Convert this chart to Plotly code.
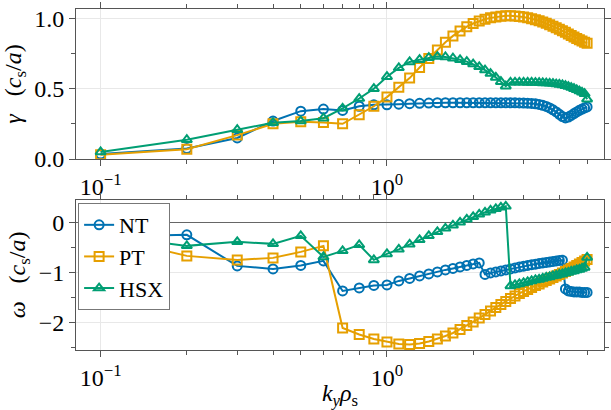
import plotly.graph_objects as go
from plotly.subplots import make_subplots

ky = [0.1, 0.2, 0.3, 0.4, 0.5, 0.6, 0.7, 0.8, 0.9, 1.0,
      1.1, 1.2, 1.3, 1.4, 1.5, 1.6, 1.7, 1.8, 1.9, 2.0,
      2.1, 2.2, 2.3, 2.4, 2.5, 2.6, 2.7, 2.8, 2.9, 3.0,
      3.1, 3.2, 3.3, 3.4, 3.5, 3.6, 3.7, 3.8, 3.9, 4.0,
      4.1, 4.2, 4.3, 4.4, 4.5, 4.6, 4.7, 4.8, 4.9, 5.0]

gamma_NT = [0.035, 0.075, 0.15, 0.27, 0.34, 0.355, 0.345, 0.375, 0.385, 0.385,
            0.39, 0.393, 0.396, 0.398, 0.40, 0.40, 0.40, 0.40, 0.40, 0.40,
            0.40, 0.40, 0.40, 0.40, 0.40, 0.40, 0.40, 0.40, 0.399, 0.398,
            0.397, 0.395, 0.392, 0.388, 0.382, 0.374, 0.363, 0.350, 0.335, 0.318,
            0.302, 0.292, 0.298, 0.31, 0.323, 0.335, 0.346, 0.355, 0.363, 0.37]

gamma_PT = [0.03, 0.07, 0.17, 0.25, 0.265, 0.26, 0.25, 0.315, 0.375, 0.44,
            0.51, 0.575, 0.65, 0.715, 0.775, 0.83, 0.875, 0.91, 0.94, 0.963,
            0.98, 0.993, 1.003, 1.01, 1.015, 1.018, 1.018, 1.016, 1.013, 1.009,
            1.003, 0.997, 0.99, 0.982, 0.973, 0.964, 0.954, 0.944, 0.933, 0.922,
            0.911, 0.90, 0.889, 0.878, 0.867, 0.857, 0.847, 0.838, 0.83, 0.822]

gamma_HSX = [0.05, 0.137, 0.208, 0.258, 0.27, 0.29, 0.36, 0.43, 0.50, 0.585,
             0.648, 0.69, 0.706, 0.72, 0.728, 0.725, 0.716, 0.705, 0.692, 0.675,
             0.655, 0.632, 0.607, 0.58, 0.55, 0.518, 0.545, 0.545, 0.545, 0.545,
             0.544, 0.544, 0.543, 0.542, 0.541, 0.54, 0.538, 0.536, 0.533, 0.53,
             0.526, 0.521, 0.515, 0.508, 0.50, 0.492, 0.483, 0.474, 0.464, 0.425]

omega_NT = [-0.29, -0.25, -0.87, -0.93, -0.86, -0.77, -1.37, -1.31, -1.26, -1.25,
            -1.17, -1.12, -1.07, -1.03, -0.99, -0.95, -0.92, -0.89, -0.86, -0.83,
            -0.81, -1.04, -1.01, -0.99, -0.97, -0.95, -0.93, -0.91, -0.89, -0.875,
            -0.86, -0.845, -0.835, -0.82, -0.81, -0.80, -0.79, -0.78, -0.77, -0.76,
            -0.755, -1.33, -1.37, -1.38, -1.39, -1.39, -1.39, -1.40, -1.40, -1.40]

omega_PT = [-0.26, -0.67, -0.75, -0.71, -0.59, -0.47, -2.11, -2.24, -2.33, -2.39,
            -2.43, -2.44, -2.42, -2.38, -2.33, -2.27, -2.21, -2.14, -2.06, -1.99,
            -1.91, -1.84, -1.77, -1.70, -1.64, -1.58, -1.52, -1.47, -1.42, -1.38,
            -1.34, -1.30, -1.26, -1.23, -1.19, -1.16, -1.13, -1.10, -1.07, -1.04,
            -1.01, -0.98, -0.95, -0.92, -0.89, -0.86, -0.83, -0.80, -0.77, -0.74]

omega_HSX = [-0.25, -0.47, -0.39, -0.43, -0.27, -0.69, -0.57, -0.45, -0.75, -0.63,
             -0.54, -0.44, -0.35, -0.27, -0.19, -0.12, -0.06, 0.00, 0.06, 0.11,
             0.16, 0.20, 0.24, 0.27, 0.30, 0.32, -1.27, -1.25, -1.23, -1.21,
             -1.19, -1.17, -1.15, -1.14, -1.12, -1.10, -1.09, -1.07, -1.06, -1.04,
             -1.03, -1.01, -1.00, -0.98, -0.97, -0.95, -0.94, -0.92, -0.90, -0.70]

series = [
    ("NT", gamma_NT, omega_NT, "#0072B2", "circle-open"),
    ("PT", gamma_PT, omega_PT, "#E69F00", "square-open"),
    ("HSX", gamma_HSX, omega_HSX, "#009E73", "triangle-up-open"),
]

x_major = [0.1, 1.0]
x_major_text = ["10<sup>\u22121</sup>", "10<sup>0</sup>"]
x_minor = [0.2, 0.3, 0.4, 0.5, 0.6, 0.7, 0.8, 0.9, 2, 3, 4, 5]

FONT = "Liberation Serif, Times New Roman, Noto Serif, serif"

fig = make_subplots(rows=2, cols=1, vertical_spacing=0.12)

for name, g, w, col, sym in series:
    for row, vals, show in ((1, g, False), (2, w, True)):
        fig.add_trace(go.Scatter(
            x=ky, y=vals, mode="lines+markers", name=name, showlegend=show,
            line=dict(color=col, width=2),
            marker=dict(symbol=sym, size=9, color=col, line=dict(color=col, width=2)),
        ), row=row, col=1)

axis_common = dict(
    showline=True, linecolor="#555555", linewidth=1, mirror="ticks",
    ticks="outside", ticklen=6, tickwidth=1, tickcolor="#555555",
    showgrid=True, gridcolor="#e8e8e8", gridwidth=1,
    tickfont=dict(family=FONT, size=24, color="black"),
)

xr = [-1.086, 0.758]
for r in (1, 2):
    fig.update_xaxes(type="log", range=xr, tickmode="array", tickvals=x_major,
                     ticktext=x_major_text, zeroline=False,
                     minor=dict(tickmode="array", tickvals=x_minor, ticks="outside",
                                ticklen=4, tickcolor="#555555", showgrid=False),
                     **axis_common, row=r, col=1)

fig.update_xaxes(title=dict(text="<i>k<sub>y</sub>\u03c1</i><sub>s</sub>",
                            font=dict(family=FONT, size=24, color="black"), standoff=2),
                 row=2, col=1)

fig.update_yaxes(range=[0, 1.066], tickmode="array", tickvals=[0, 0.5, 1.0],
                 ticktext=["0.0", "0.5", "1.0"], zeroline=False,
                 minor=dict(tickmode="array", tickvals=[0.25, 0.75], ticks="outside",
                            ticklen=4, tickcolor="#555555", showgrid=False),
                 title=dict(text="<i>\u03b3</i>\u00a0\u00a0\u00a0(<i>c</i><sub>s</sub>/<i>a</i>)",
                            font=dict(family=FONT, size=24, color="black"), standoff=6),
                 **axis_common, row=1, col=1)

fig.update_yaxes(range=[-2.55, 0.447], tickmode="array", tickvals=[-2, -1, 0],
                 ticktext=["\u22122", "\u22121", "0"],
                 zeroline=True, zerolinecolor="#666666", zerolinewidth=1,
                 minor=dict(tickmode="array", tickvals=[-2.5, -1.5, -0.5], ticks="outside",
                            ticklen=4, tickcolor="#555555", showgrid=False),
                 title=dict(text="<i>\u03c9</i>\u00a0\u00a0\u00a0(<i>c</i><sub>s</sub>/<i>a</i>)",
                            font=dict(family=FONT, size=24, color="black"), standoff=6),
                 **axis_common, row=2, col=1)

fig.update_layout(
    width=611, height=410,
    margin=dict(l=76, r=0, t=9, b=60),
    paper_bgcolor="white", plot_bgcolor="white",
    font=dict(family=FONT, size=22, color="black"),
    legend=dict(x=0.004, y=0.431, xanchor="left", yanchor="top",
                bgcolor="white", bordercolor="#777777", borderwidth=1,
                font=dict(family=FONT, size=22, color="black"),
                itemwidth=30, tracegroupgap=0),
)
fig.update_yaxes(domain=[0.560, 1.0], row=1, col=1)
fig.update_yaxes(domain=[0.0, 0.440], row=2, col=1)

fig.write_html("out.html")
